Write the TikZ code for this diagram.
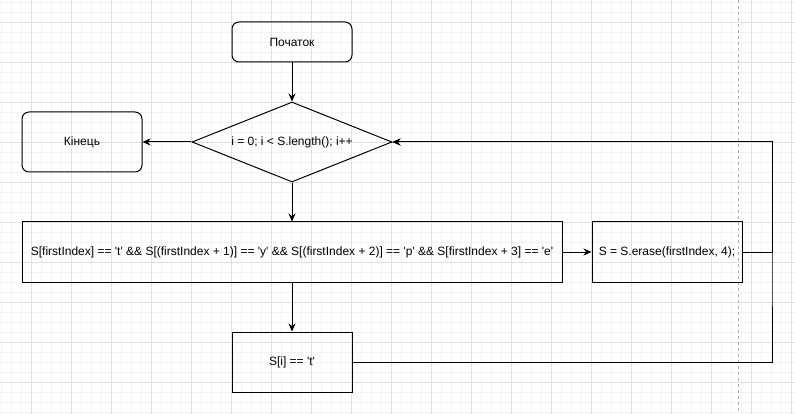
\documentclass[tikz,border=0pt]{standalone}
\usepackage{fontspec}
\setmainfont[Ligatures=TeXOff]{Liberation Sans}
\usetikzlibrary{shapes.geometric, arrows.meta}

\begin{document}
\begin{tikzpicture}[x=1pt, y=-1pt, >={Stealth[length=8pt, width=7pt]}, line width=1pt,
    every node/.style={font=\fontsize{12}{14}\selectfont, inner sep=0pt},
    terminal/.style={draw, rounded corners=7pt, minimum width=120pt, minimum height=#1},
    block/.style={draw, minimum width=#1, minimum height=60pt},
    decision/.style={draw, diamond, aspect=2.5, minimum width=200pt, minimum height=80pt}]
    \useasboundingbox (0,0) rectangle (795,414);

    % Grid
    \foreach \x in {1.7,11.7,...,795} \draw[line width=0.6pt, black!5] (\x,0) -- (\x,414);
    \foreach \y in {2.3,12.3,...,414} \draw[line width=0.6pt, black!5] (0,\y) -- (795,\y);
    \foreach \x in {31.7,71.7,...,795} \draw[line width=0.8pt, black!12] (\x,0) -- (\x,414);
    \foreach \y in {22.3,62.3,...,414} \draw[line width=0.8pt, black!12] (0,\y) -- (795,\y);
    \draw[line width=0.8pt, black!30, dash pattern=on 3pt off 3pt] (738.7,0) -- (738.7,414);

    % Blocks
    \node[terminal=40pt] (start) at (292,42) {Початок};
    \node[decision] (loop) at (292,142) {i = 0; i < S.length(); i++};
    \node[terminal=60pt] (stop) at (82,142) {Кінець};
    \node[block=540pt] (check) at (292,252) {S[firstIndex] == 't' \&\& S[(firstIndex + 1)] == 'y' \&\& S[(firstIndex + 2)] == 'p' \&\& S[firstIndex + 3] == 'e'};
    \node[block=150pt] (erase) at (667,252) {S = S.erase(firstIndex, 4);};
    \node[block=120pt] (cmp) at (292,362) {S[i] == 't'};
    \coordinate (back) at (772,252);

    % Connectors
    \draw[->] (start) -- (loop);
    \draw[->] (loop) -- (stop);
    \draw[->] (loop) -- (check);
    \draw[->] (check) -- (erase);
    \draw[->] (check) -- (cmp);
    \draw[->] (erase) -- (back) |- (loop);
    \draw[->] (cmp) -| (back) |- (loop);
\end{tikzpicture}
\end{document}
